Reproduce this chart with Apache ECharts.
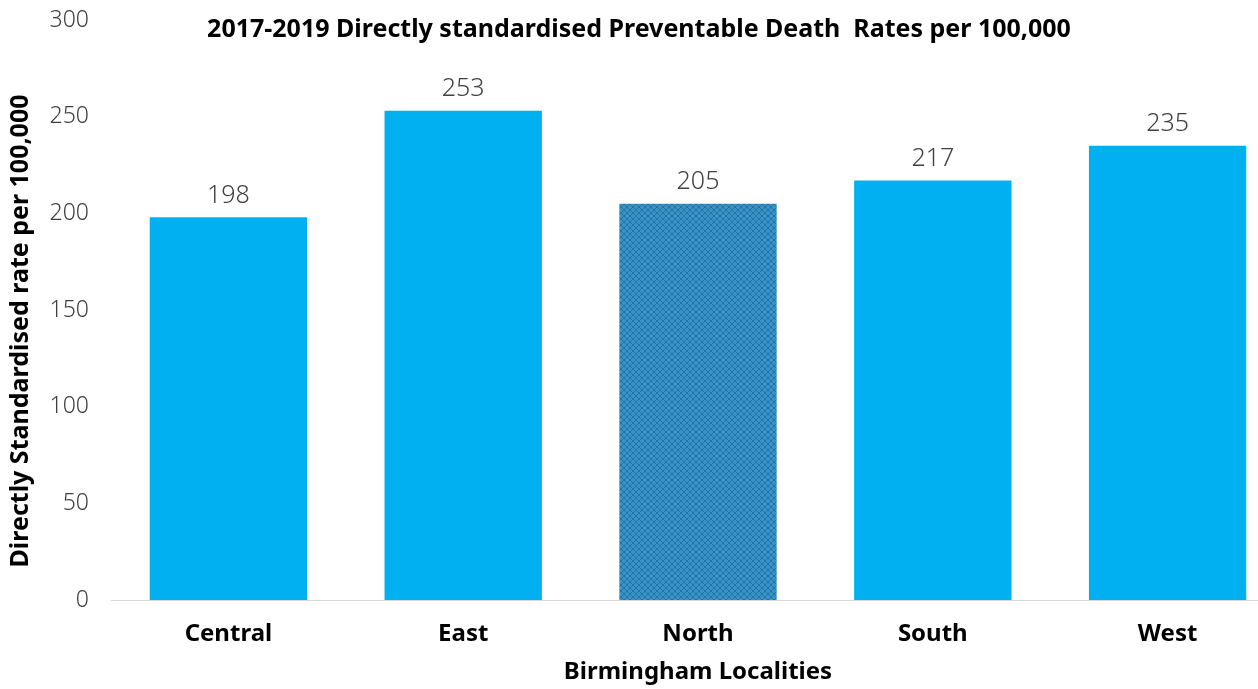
<!DOCTYPE html>
<html><head><meta charset="utf-8">
<script src="https://cdn.jsdelivr.net/npm/echarts@6/dist/echarts.min.js"></script>
<style>html,body{margin:0;padding:0;background:#fff;overflow:hidden}#c{width:1285px;height:689px}</style>
</head><body><div id="c"></div>
<script>
const categories = ['Central', 'East', 'North', 'South', 'West'];
const values = [198, 253, 205, 217, 235];
const yTicks = [0, 50, 100, 150, 200, 250, 300];
const highlighted = 'North';

function makePattern() {
  const c = document.createElement('canvas');
  c.width = 6; c.height = 6;
  const g = c.getContext('2d');
  g.fillStyle = '#3593C6';
  g.fillRect(0, 0, 6, 6);
  g.strokeStyle = '#2573A4';
  g.lineWidth = 1;
  g.beginPath();
  g.moveTo(0, 0); g.lineTo(6, 6);
  g.moveTo(6, 0); g.lineTo(0, 6);
  g.stroke();
  return c;
}
const pattern = { image: makePattern(), repeat: 'repeat' };

const font = '"Noto Sans", "Open Sans", sans-serif';
const chart = echarts.init(document.getElementById('c'));
chart.setOption({
  animation: false,
  title: {
    text: '2017-2019 Directly standardised Preventable Death  Rates per 100,000',
    left: 634, top: 12, textAlign: 'center',
    textStyle: { fontFamily: font, fontSize: 25, fontWeight: 'bold', color: '#000' }
  },
  grid: { left: 110, right: 0, top: 20, bottom: 89, containLabel: false },
  xAxis: {
    type: 'category', data: categories,
    name: 'Birmingham Localities', nameLocation: 'middle', nameGap: 60,
    nameTextStyle: { fontFamily: font, fontSize: 24, fontWeight: 'bold', color: '#000' },
    axisLine: { lineStyle: { color: '#D9D9D9', width: 1 } },
    axisTick: { show: false },
    axisLabel: { fontFamily: font, fontSize: 24, fontWeight: 'bold', color: '#000', margin: 22 }
  },
  yAxis: {
    type: 'value', min: yTicks[0], max: yTicks[yTicks.length - 1], interval: 50,
    name: 'Directly Standardised rate per 100,000', nameLocation: 'middle', nameGap: 78,
    nameTextStyle: { fontFamily: font, fontSize: 25, fontWeight: 'bold', color: '#000', padding: [0, 42, 0, 0] },
    axisLine: { show: false }, axisTick: { show: false },
    splitLine: { show: false },
    axisLabel: { fontFamily: font, fontSize: 23, fontWeight: 300, color: '#404040', margin: 22 }
  },
  series: [{
    type: 'bar', barCategoryGap: '33%',
    data: categories.map((c, i) => ({
      value: values[i],
      itemStyle: { color: c === highlighted ? pattern : '#00B0F0' }
    })),
    label: { show: true, position: 'top', distance: 9, fontFamily: font, fontSize: 25, fontWeight: 300, color: '#404040' }
  }]
});
</script></body></html>
